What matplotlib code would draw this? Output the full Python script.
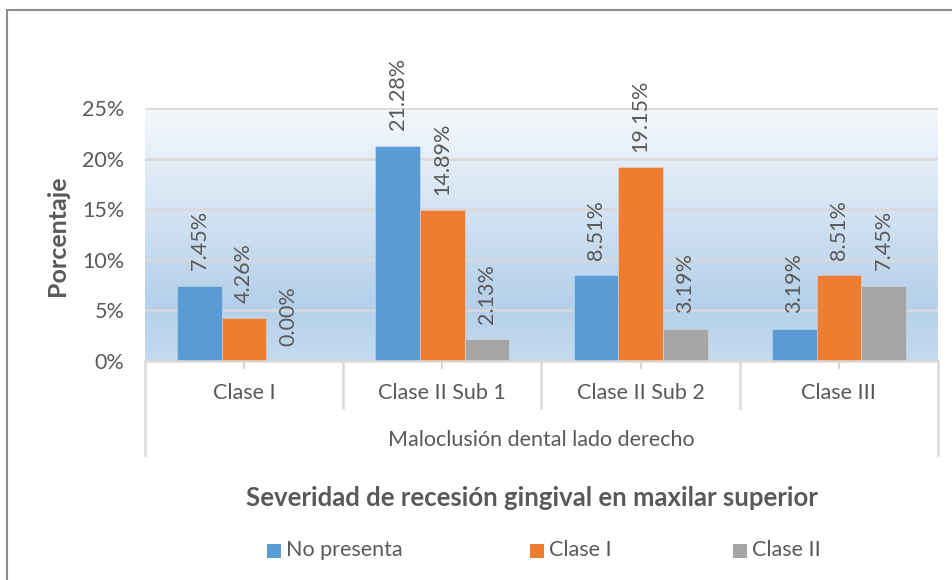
import numpy as np
from matplotlib import pyplot as plt
from matplotlib import rcParams
from matplotlib.colors import LinearSegmentedColormap
from matplotlib.lines import Line2D
from matplotlib.patches import Rectangle

rcParams["font.family"] = ["Lato", "DejaVu Sans"]

# data
categories = ["Clase I", "Clase II Sub 1", "Clase II Sub 2", "Clase III"]
series_names = ["No presenta", "Clase I", "Clase II"]
no_presenta = [7.45, 21.28, 8.51, 3.19]
clase_i = [4.26, 14.89, 19.15, 8.51]
clase_ii = [0.00, 2.13, 3.19, 7.45]
y_ticks = [0, 5, 10, 15, 20, 25]

colors = ["#5b9bd5", "#ed7d31", "#a5a5a5"]
text_col = "#595959"
grid_col = "#d9d9d9"
fs = 15.5

W, H = 953, 580
fig = plt.figure(figsize=(W / 100, H / 100), dpi=100)
fig.patch.set_facecolor("white")

# plot area in pixels
x0, x1, y0, y1 = 145, 938, 108, 361
ax = fig.add_axes([x0 / W, 1 - y1 / H, (x1 - x0) / W, (y1 - y0) / H])

# gradient background
grad = LinearSegmentedColormap.from_list(
    "bg", [(0, "#f5f8fc"), (0.78, "#b5d0ea"), (1.0, "#c4dbef")]
)
ax.imshow(
    np.linspace(0, 1, 256).reshape(-1, 1),
    cmap=grad,
    aspect="auto",
    extent=[-0.5, len(categories) - 0.5, 0, 25],
    zorder=0,
    origin="upper",
)

x = np.arange(len(categories))
bw = 0.225
for i, vals in enumerate([no_presenta, clase_i, clase_ii]):
    pos = x + (i - 1) * bw
    ax.bar(pos, vals, width=bw, color=colors[i], zorder=3,
           edgecolor=(1, 1, 1, 0.25), linewidth=0.8)
    for p, v in zip(pos, vals):
        ax.annotate(
            f"{v:.2f}%",
            (p, v),
            xytext=(0, 11),
            textcoords="offset points",
            rotation=90,
            ha="center",
            va="bottom",
            fontsize=fs,
            color=text_col,
        )

ax.set_xlim(-0.5, len(categories) - 0.5)
ax.set_ylim(0, 25)
ax.set_yticks(y_ticks)
ax.set_yticklabels([f"{t}%" for t in y_ticks], fontsize=fs, color=text_col)
ax.tick_params(axis="y", length=0, pad=15)
for t in y_ticks[1:]:
    ax.axhline(t, color=grid_col, lw=1.8, zorder=1)

ax.set_xticks(x)
ax.set_xticklabels([])
ax.tick_params(axis="x", length=6, width=1.5, color=grid_col)
for s in ["top", "right", "left"]:
    ax.spines[s].set_visible(False)
ax.spines["bottom"].set_color(grid_col)
ax.spines["bottom"].set_linewidth(1.8)
ax.spines["bottom"].set_zorder(4)

# multi-level category axis
tr = ax.get_xaxis_transform()
ph = y1 - y0
for k in range(len(categories) + 1):
    xb = k - 0.5
    low = 455 if k in (0, len(categories)) else 408
    ax.plot([xb, xb], [0, -(low - y1) / ph], color=grid_col, lw=1.8,
            transform=tr, clip_on=False)
for k, c in enumerate(categories):
    ax.text(k, -(393 - y1) / ph, c, transform=tr, ha="center", va="center",
            fontsize=fs, color=text_col)
ax.text(1.5, -(440 - y1) / ph, "Maloclusión dental lado derecho", transform=tr,
        ha="center", va="center", fontsize=fs, color=text_col)

fig.text(58 / W, 1 - 236 / H, "Porcentaje", rotation=90, ha="center", va="center",
         fontsize=18, fontweight="bold", color=text_col)

fig.text(532 / W, 1 - 498 / H, "Severidad de recesión gingival en maxilar superior",
         ha="center", va="center", fontsize=18.5, fontweight="bold", color=text_col)

# legend, laid out like the Excel one
leg_x = [267, 530, 733]
for xl, c, name in zip(leg_x, colors, series_names):
    fig.add_artist(Rectangle((xl / W, 1 - 558 / H), 14 / W, 14 / H,
                             facecolor=c, edgecolor="none", transform=fig.transFigure))
    fig.text((xl + 19) / W, 1 - 550 / H, name, ha="left", va="center",
             fontsize=fs, color=text_col)

# outer chart border (left and top only visible)
fig.add_artist(Line2D([7.5 / W, 7.5 / W], [0, 1 - 10 / H], color="#8c8c8c", lw=1.5))
fig.add_artist(Line2D([7.5 / W, 1], [1 - 10 / H, 1 - 10 / H], color="#8c8c8c", lw=1.5))

fig.savefig("out.png", dpi=100)
